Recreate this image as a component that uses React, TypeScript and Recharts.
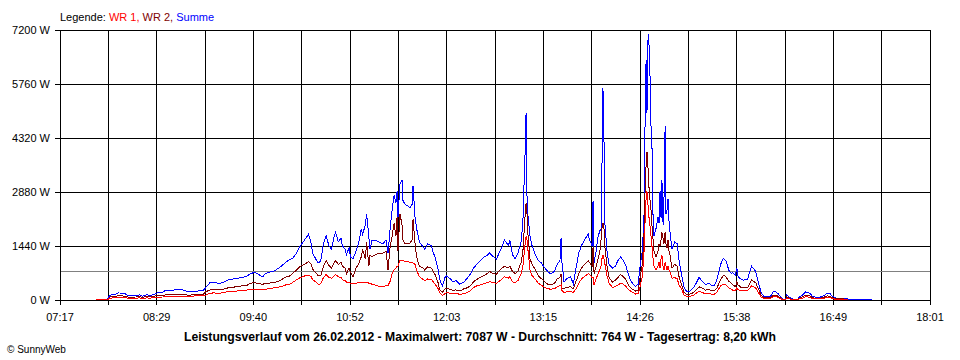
import React from 'react';
import { LineChart, Line, XAxis, YAxis, CartesianGrid, ReferenceLine } from 'recharts';

// Time stamps of the samples (HH:MM or HH:MM:SS)
const times: string[] = [
  "07:44","07:52","07:53","07:54","07:58","08:00","08:03","08:05","08:07","08:10",
  "08:13","08:16","08:18","08:21","08:24","08:26","08:29","08:33","08:35","08:38",
  "08:42","08:46","08:49","08:52","08:55","08:59","09:03","09:05","09:08","09:11",
  "09:14","09:17","09:21","09:24","09:28","09:32","09:35","09:38","09:41","09:44",
  "09:47","09:49","09:52","09:56","10:00","10:04","10:07","10:09","10:12","10:15",
  "10:18","10:20","10:21","10:23","10:24","10:27","10:28","10:30","10:32","10:34",
  "10:36","10:38","10:40","10:41","10:43","10:45","10:46","10:48","10:49","10:51",
  "10:52","10:54","10:56","10:58","11:00","11:01","11:03","11:04","11:05:40","11:06:30",
  "11:08","11:10","11:13","11:16","11:18:20","11:19:50","11:21:20","11:22:50","11:24:20","11:25:40",
  "11:26:30","11:27:10","11:28:40","11:30:10","11:30:55","11:32:25","11:35","11:36","11:37:35","11:38:20",
  "11:39:50","11:41","11:43","11:46","11:47","11:49","11:52","11:53","11:55","11:57",
  "11:58","12:00","12:02","12:03","12:06","12:08","12:10","12:13","12:16","12:18",
  "12:21","12:23","12:25","12:28","12:31","12:33","12:35","12:38","12:40","12:42",
  "12:44","12:46","12:47","12:49","12:50","12:52","12:54","12:56","12:58:20","12:59:40",
  "13:00:30","13:01:10","13:02:00","13:02:40","13:03:30","13:04:55","13:06:25","13:09","13:11","13:13",
  "13:16","13:18","13:20","13:23","13:25","13:27:05","13:27:55","13:28:35","13:30:05","13:32",
  "13:35","13:37","13:39","13:41","13:43","13:46","13:48","13:49","13:50:50","13:51:35",
  "13:52:20","13:53:50","13:55:20","13:56:40","13:57:30","13:58:10","13:58:55","13:59:40","14:00:25","14:01:55",
  "14:03:25","14:06","14:08","14:10","14:12","14:14","14:16","14:18","14:20","14:23",
  "14:25","14:26","14:27:50","14:28:35","14:29:20","14:30:00","14:30:50","14:31:30","14:32:20","14:33:00",
  "14:33:40","14:34:30","14:35:10","14:36:00","14:36:40","14:38:10","14:39:40","14:40:25","14:41:10","14:41:55",
  "14:42:35","14:43:25","14:44:05","14:44:55","14:45:35","14:46:20","14:47:05","14:47:50","14:48:35","14:50",
  "14:52","14:54","14:55","14:57","14:59","15:01","15:03","15:06","15:08","15:10",
  "15:12","15:15","15:17","15:19","15:21","15:23","15:26","15:28","15:30","15:32",
  "15:34","15:35","15:37","15:38","15:39","15:41","15:43","15:46","15:48","15:49",
  "15:52","15:54","15:56","15:58","16:00","16:03","16:05","16:07","16:09","16:12",
  "16:14","16:15","16:17","16:20","16:23","16:25","16:27","16:29","16:32","16:34",
  "16:37","16:40","16:43","16:45","16:47","16:49","16:52","17:00","17:01","17:18",
];

// Summe (W)
const summe: number[] = [
  10,15,80,130,150,190,180,170,120,110,
  115,140,100,140,125,140,190,200,260,250,
  270,290,250,220,230,240,250,340,460,480,
  440,460,530,550,580,600,630,700,740,680,
  620,700,740,780,880,1000,1080,1100,1250,1450,
  1600,1700,1760,1500,1250,1050,980,1050,1500,1720,
  1450,1350,1700,1800,1550,1650,1450,1350,1200,1400,
  1150,1100,1300,1500,1900,1750,2000,2300,1650,1350,
  1600,1600,1550,1500,1600,1250,1900,2400,2800,2600,
  2900,2200,3100,3200,2650,2550,2500,2450,2550,3050,
  2200,1900,1550,1400,1350,1500,1450,1300,1100,800,
  550,370,600,640,560,480,520,420,480,560,
  700,850,930,1050,1150,1180,1250,1150,1080,1250,
  1400,1600,1550,1450,1600,1200,1100,1250,1550,2100,
  3100,3800,4980,2800,2200,1700,1450,1200,1050,1000,
  850,760,700,760,950,1050,1650,1000,480,560,
  620,420,850,1250,1450,1650,1750,1600,1450,2650,
  1000,1300,1700,1850,1900,3500,5650,4300,2000,1300,
  950,850,900,1050,1150,1050,900,650,480,360,
  420,800,1250,1700,2300,4500,6400,5000,7087,6800,
  6100,4600,4200,2200,1700,1900,2200,2050,2900,2200,
  3200,2000,2700,4650,2300,2400,2700,2100,1800,1350,
  1550,1500,1100,700,320,220,230,330,450,600,
  520,400,450,400,380,500,950,1110,1050,800,
  700,730,650,860,620,560,530,560,800,900,
  760,460,200,100,90,100,220,220,150,30,
  10,130,70,10,20,100,140,220,180,100,
  70,80,130,180,170,90,45,40,12,10,
];

// WR 2 (W)
const wr2: (number | null)[] = [
  5,10,40,80,100,110,110,100,80,75,
  80,85,75,90,80,100,115,115,140,140,
  150,160,140,130,135,140,150,220,270,290,
  270,280,320,330,360,380,380,450,460,440,
  420,440,450,470,520,610,640,700,800,900,
  950,1000,1020,950,820,700,640,650,900,1050,
  920,850,1000,1050,950,1000,900,850,700,850,
  750,620,850,950,1150,1350,1100,1550,900,1200,
  1150,1200,1250,1250,1300,800,1400,1700,2050,1700,
  2200,1300,2300,2000,1600,1500,1500,1520,1600,2150,
  1500,1150,900,850,800,880,850,780,650,450,
  280,200,300,320,280,260,270,240,300,320,
  380,480,540,600,650,700,760,700,680,780,
  850,900,880,870,900,760,700,780,1000,1300,
  1800,2200,2580,2300,1700,1100,950,800,650,580,
  480,420,400,440,560,600,700,300,300,340,
  350,300,500,700,850,980,1050,1000,900,1400,
  700,900,1100,1300,1600,1900,2050,1900,1400,900,
  600,480,520,600,680,620,540,380,300,240,
  250,500,900,1300,1800,2800,3600,3950,3500,3000,
  2700,2400,2000,1600,1300,1150,1300,1500,1450,1600,
  1800,1650,1500,1800,1500,1400,1600,1300,1200,850,
  950,900,650,420,200,150,150,200,280,350,
  330,260,290,250,250,300,540,660,620,500,
  450,400,360,480,400,340,320,330,470,530,
  460,300,130,60,55,60,120,130,90,20,
  5,80,40,5,10,60,90,130,110,60,
  40,50,80,110,100,55,30,25,null,null,
];

// WR 1 (W)
const wr1: (number | null)[] = [
  5,5,30,50,60,70,70,60,50,45,
  50,55,45,55,50,60,75,80,90,90,
  95,100,95,100,105,110,115,130,180,190,
  180,190,220,230,240,260,260,290,290,280,
  270,290,300,330,350,400,420,460,540,600,
  640,660,660,620,540,470,420,430,600,680,
  600,580,650,680,620,600,540,520,480,460,
  450,440,450,460,470,480,470,470,450,440,
  420,400,370,360,380,380,500,700,800,850,
  900,900,1050,1050,1050,1020,1020,1000,1000,980,
  950,800,620,540,520,560,540,500,400,300,
  200,120,170,200,180,170,180,150,170,190,
  250,330,370,400,440,460,490,460,440,500,
  550,620,600,580,620,480,470,520,700,900,
  1200,1450,1700,1600,1300,800,650,550,450,400,
  330,300,290,300,350,380,400,250,200,220,
  220,200,300,450,560,650,700,680,600,600,
  400,560,700,820,900,1100,1200,1100,950,650,
  450,330,360,400,450,420,360,270,220,160,
  170,300,600,900,1300,2000,2700,2900,2500,2200,
  2000,1700,1450,1100,900,800,900,1000,850,1100,
  1200,900,800,1000,900,800,900,800,750,580,
  600,560,420,300,130,90,90,130,180,230,
  210,160,180,160,150,190,380,420,400,320,
  290,260,250,330,270,250,240,250,330,380,
  320,200,80,40,35,40,90,90,60,10,
  5,50,30,5,10,40,50,90,70,40,
  30,30,50,70,70,35,15,15,null,null,
];

const yTicks = [0, 1440, 2880, 4320, 5760, 7200];
const xLabels = ["07:17", "08:29", "09:40", "10:52", "12:03", "13:15", "14:26", "15:38", "16:49", "18:01"];
const average = 764;
const titleText = "Leistungsverlauf vom 26.02.2012 - Maximalwert: 7087 W - Durchschnitt: 764 W - Tagesertrag: 8,20 kWh";

const FONT = '"Liberation Sans", Arial, sans-serif';

function toMin(s: string): number {
  const p = s.split(':').map(Number);
  return p[0] * 60 + p[1] + (p[2] || 0) / 60;
}

const data = times.map((t, i) => ({ t: toMin(t), summe: summe[i], wr2: wr2[i], wr1: wr1[i] }));

const xStart = toMin(xLabels[0]);
const xEnd = toMin(xLabels[xLabels.length - 1]);
const nInt = (xLabels.length - 1) * 2;
const xTicks = Array.from({ length: nInt + 1 }, (_, i) => xStart + ((xEnd - xStart) * i) / nInt);

const xFmt = (v: number) => {
  const idx = Math.round(((v - xStart) / (xEnd - xStart)) * nInt);
  return idx % 2 === 0 ? xLabels[idx / 2] : '';
};

export default function App() {
  return (
    <div style={{ position: 'absolute', left: 0, top: 0, width: 960, height: 360, background: '#fff', fontFamily: FONT }}>
      <LineChart width={960} height={360} data={data} margin={{ top: 30, right: 30, bottom: 0, left: 0 }}>
        <CartesianGrid stroke="#000" strokeWidth={1} shapeRendering="crispEdges" />
        <XAxis
          type="number"
          dataKey="t"
          domain={[xStart, xEnd]}
          ticks={xTicks}
          interval={0}
          tickFormatter={xFmt}
          height={60}
          tickSize={5}
          tickMargin={8}
          axisLine={{ stroke: '#000', shapeRendering: 'crispEdges' }}
          tickLine={{ stroke: '#000', shapeRendering: 'crispEdges' }}
          tick={{ fill: '#000', fontSize: 11, fontFamily: FONT }}
        />
        <YAxis
          type="number"
          domain={[0, 7200]}
          ticks={yTicks}
          interval={0}
          width={60}
          tickSize={5}
          tickMargin={5}
          tickFormatter={(v: number) => `${v} W`}
          axisLine={{ stroke: '#000', shapeRendering: 'crispEdges' }}
          tickLine={{ stroke: '#000', shapeRendering: 'crispEdges' }}
          tick={{ fill: '#000', fontSize: 11, fontFamily: FONT }}
        />
        <ReferenceLine y={average} stroke="#808080" strokeWidth={1} shapeRendering="crispEdges" />
        <Line dataKey="summe" stroke="#0000FF" strokeWidth={1} dot={false} type="linear" isAnimationActive={false} shapeRendering="crispEdges" />
        <Line dataKey="wr2" stroke="#800000" strokeWidth={1} dot={false} type="linear" isAnimationActive={false} shapeRendering="crispEdges" />
        <Line dataKey="wr1" stroke="#FF0000" strokeWidth={1} dot={false} type="linear" isAnimationActive={false} shapeRendering="crispEdges" />
      </LineChart>
      <svg width={960} height={360} style={{ position: 'absolute', left: 0, top: 0, pointerEvents: 'none' }}>
        <text x={60} y={21} fontSize={11} fontFamily={FONT} fill="#000">
          Legende:{' '}
          <tspan fill="#FF0000">WR 1,</tspan>{' '}
          <tspan fill="#800000">WR 2,</tspan>{' '}
          <tspan fill="#0000FF">Summe</tspan>
        </text>
        <text x={480} y={341} fontSize={12} fontWeight="bold" fontFamily={FONT} fill="#000" textAnchor="middle" textLength={592} lengthAdjust="spacingAndGlyphs">
          {titleText}
        </text>
        <text x={7} y={353} fontSize={10} fontFamily={FONT} fill="#000">
          © SunnyWeb
        </text>
      </svg>
    </div>
  );
}
